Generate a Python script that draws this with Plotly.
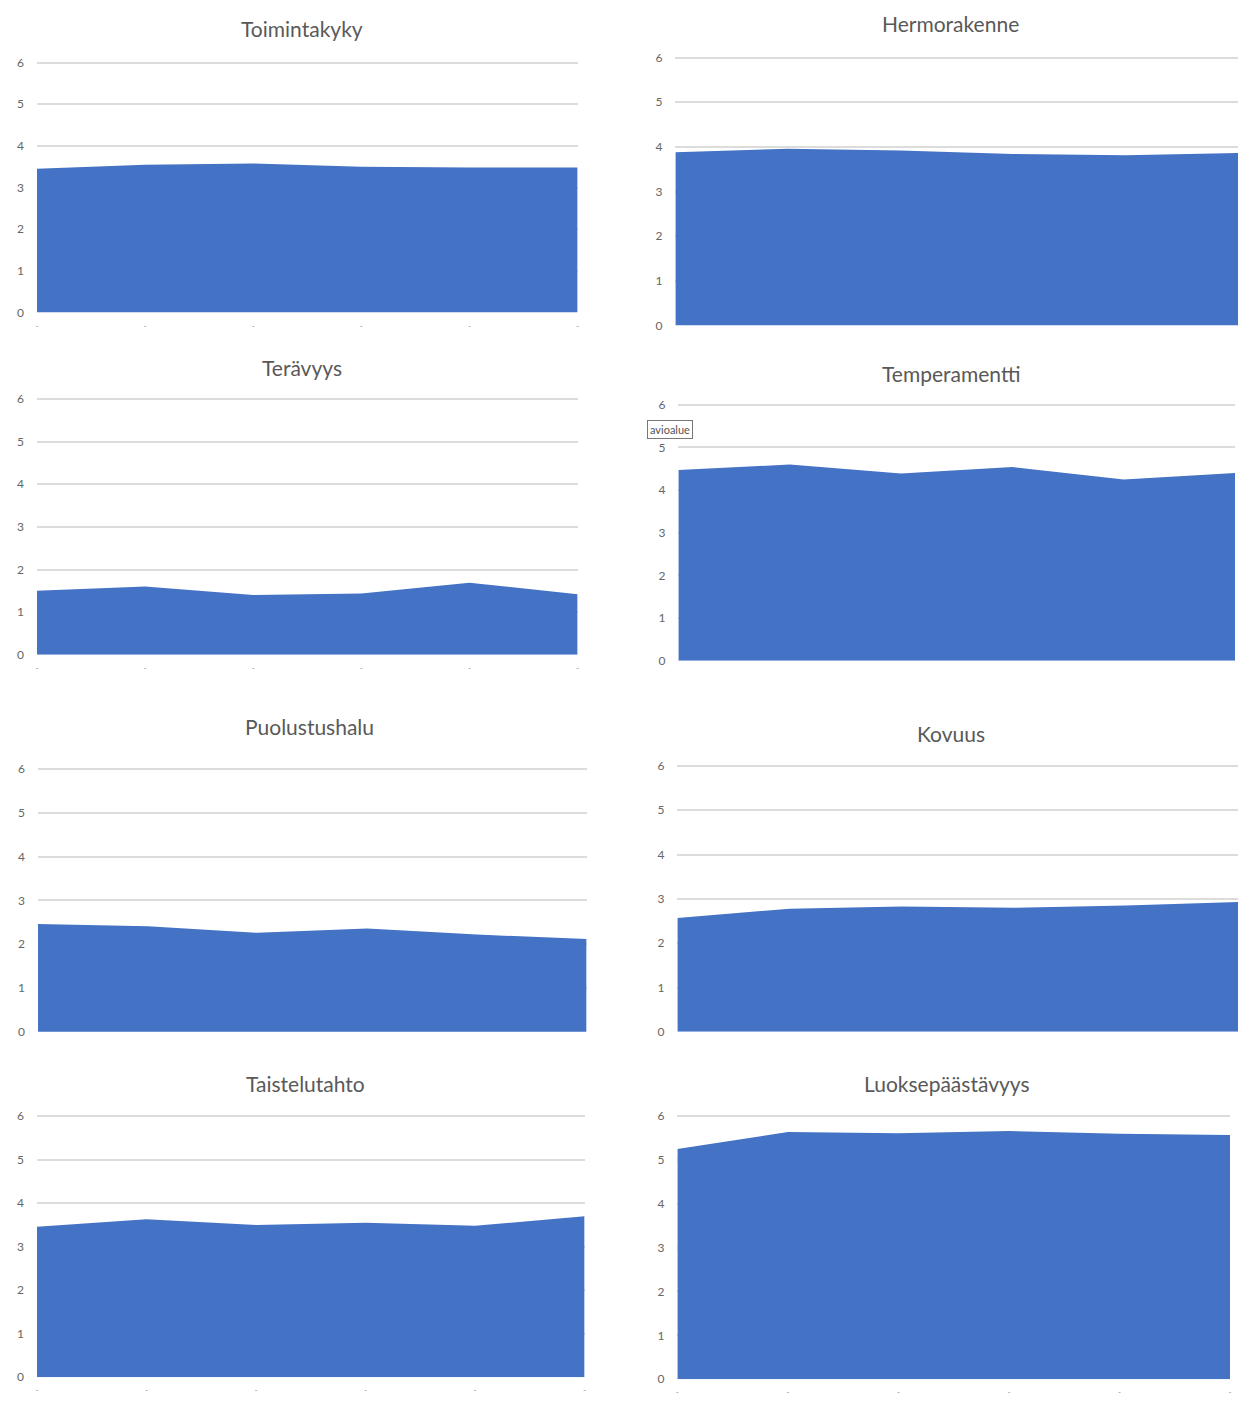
import plotly.graph_objects as go

# Category positions (six measurement points per trait)
categories = [1, 2, 3, 4, 5, 6]

titles = [
    "Toimintakyky", "Hermorakenne",
    "Terävyys", "Temperamentti",
    "Puolustushalu", "Kovuus",
    "Taistelutahto", "Luoksepäästävyys",
]

toimintakyky = [3.45, 3.55, 3.58, 3.50, 3.48, 3.48]
hermorakenne = [3.88, 3.96, 3.92, 3.84, 3.81, 3.86]
teravyys = [1.50, 1.60, 1.40, 1.44, 1.69, 1.42]
temperamentti = [4.47, 4.60, 4.39, 4.54, 4.25, 4.40]
puolustushalu = [2.46, 2.41, 2.26, 2.36, 2.22, 2.12]
kovuus = [2.57, 2.78, 2.83, 2.80, 2.85, 2.93]
taistelutahto = [3.46, 3.63, 3.50, 3.55, 3.48, 3.70]
luoksepaastavyys = [5.25, 5.64, 5.61, 5.66, 5.60, 5.57]

series = [toimintakyky, hermorakenne, teravyys, temperamentti,
          puolustushalu, kovuus, taistelutahto, luoksepaastavyys]

y_ticks = [0, 1, 2, 3, 4, 5, 6]
Y_MAX = 6.08  # a little headroom so the gridline at 6 is drawn

W, H = 1240, 1402
FILL = "#4472C4"
GRID = "#dcdcdc"
TEXT = "#595959"

# Panel frames in pixels: left, right, top (value 6), bottom (value 0)
frames = [
    (36, 578, 59, 311),
    (676, 1240, 54, 324),
    (36, 578, 398, 656),
    (679, 1237, 404, 662),
    (37, 587, 771, 1036),
    (678, 1240, 768, 1036),
    (36, 585, 1121, 1384),
    (678, 1232, 1121, 1386),
]
title_pos = [(302, 25), (952, 20), (302, 366), (952, 372),
             (309, 728), (952, 735), (305, 1088), (948, 1088)]
show_xlabels = [True, False, True, False, False, False, True, True]


def fx(p):
    return p / W


def fy(p):
    return 1 - p / H


fig = go.Figure()
annotations = []

for i, (vals, title) in enumerate(zip(series, titles)):
    n = i + 1
    xa = "x" if n == 1 else f"x{n}"
    ya = "y" if n == 1 else f"y{n}"
    fig.add_trace(go.Scatter(
        x=categories, y=vals, xaxis=xa, yaxis=ya,
        mode="lines", fill="tozeroy", fillcolor=FILL,
        line=dict(width=0, color=FILL), showlegend=False,
        hoverinfo="skip",
    ))
    l, r, t, b = frames[i]
    unit = (b - t) / 6
    top = b - unit * Y_MAX
    xkey = "xaxis" if n == 1 else f"xaxis{n}"
    ykey = "yaxis" if n == 1 else f"yaxis{n}"
    fig.layout[xkey] = dict(
        domain=[fx(l), fx(r)], range=[1, 6], anchor=ya,
        showgrid=False, zeroline=False, showline=False,
        tickmode="array", tickvals=categories,
        ticktext=["-"] * len(categories),
        showticklabels=show_xlabels[i],
        tickfont=dict(size=8, color="#777777"),
        ticklabelstandoff=6, fixedrange=True,
    )
    fig.layout[ykey] = dict(
        domain=[fy(b), fy(top)], range=[0, Y_MAX], anchor=xa,
        tickvals=y_ticks, showgrid=True, gridcolor=GRID, gridwidth=2,
        zeroline=False, showline=False,
        tickfont=dict(size=12, color="#666666", family="Lato"),
        ticklabelstandoff=12, fixedrange=True,
    )
    tx, ty = title_pos[i]
    annotations.append(dict(
        text=title, x=fx(tx), y=fy(ty), xref="paper", yref="paper",
        xanchor="center", yanchor="middle", showarrow=False,
        font=dict(size=21, color=TEXT, family="Lato"),
    ))

# Partially visible chart-area tooltip
annotations.append(dict(
    text="avioalue", x=fx(648), y=fy(429), xref="paper", yref="paper",
    xanchor="left", yanchor="middle", showarrow=False,
    font=dict(size=11, color="#555555", family="Lato"),
    bgcolor="white", bordercolor="#777777", borderwidth=1, borderpad=2,
))

fig.update_layout(
    width=W, height=H, margin=dict(l=0, r=0, t=0, b=0),
    paper_bgcolor="white", plot_bgcolor="white",
    annotations=annotations,
)

fig.write_html("out.html")
